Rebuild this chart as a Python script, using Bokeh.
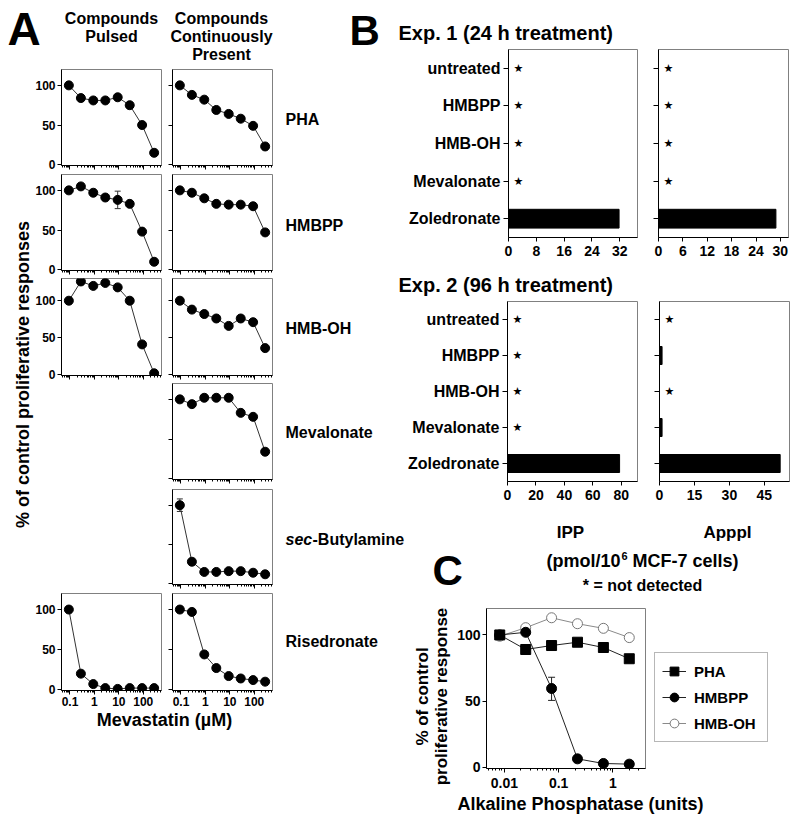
import numpy as np
from bokeh.plotting import figure
from bokeh.models import (Range1d, FactorRange, FixedTicker, CustomJSTickFormatter,
                          ColumnDataSource, Whisker, TeeHead, Legend, LegendItem)
from bokeh.layouts import column
from bokeh.core.properties import value
from bokeh.embed import file_html
from bokeh.resources import INLINE

FONT = "Liberation Sans"

# ---------------- data ----------------
# Panel A: Mevastatin dose (uM)
mevastatin_uM = [0.09, 0.28, 0.9, 2.8, 9, 28, 90, 280]
pha_pulsed = [100, 84, 81, 81, 85, 75, 50, 15]
pha_cont = [100, 88, 82, 69, 64, 58, 49, 23]
hmbpp_pulsed = [100, 105, 97, 91, 88, 83, 48, 10]
hmbpp_cont = [100, 97, 90, 83, 82, 82, 80, 47]
hmboh_pulsed = [100, 126, 120, 124, 118, 100, 41, 2]
hmboh_cont = [100, 88, 82, 76, 66, 76, 71, 36]
meval_cont = [100, 94, 102, 102, 102, 83, 78, 34]
secbut_cont = [100, 28, 15, 15, 16, 16, 14, 12]
rised_pulsed = [100, 20, 7, 2, 1, 2, 2, 2]
rised_cont = [100, 97, 44, 27, 17, 14, 12, 10]
# error bars (x, lower, upper)
hmbpp_pulsed_err = [9, 77, 99]
secbut_cont_err = [0.09, 92, 108]

row_names = ["PHA", "HMBPP", "HMB-OH", "Mevalonate", "sec-Butylamine", "Risedronate"]

# Panel B: isoprenoid levels (pmol/10^6 cells); None = not detected
treatments = ["untreated", "HMBPP", "HMB-OH", "Mevalonate", "Zoledronate"]
ipp_exp1 = [None, None, None, None, 31.8]
apppi_exp1 = [None, None, None, None, 28.9]
ipp_exp2 = [None, None, None, None, 78.8]
apppi_exp2 = [None, 1.1, None, 1.1, 51.8]

# Panel C: alkaline phosphatase units
alk_units = [0.0082, 0.0247, 0.074, 0.222, 0.667, 2.0]
c_pha = [100, 89, 92, 94.5, 90.5, 82]
c_hmbpp = [100, 102, 59.5, 6.3, 2.8, 2.3]
c_hmboh = [99, 105.5, 113, 108.5, 105, 98]
c_hmbpp_err = [0.074, 50.5, 68]
c_hmboh_err = [0.667, 102.5, 107.5]
legend_labels = ["PHA", "HMBPP", "HMB-OH"]

# ---------------- helpers ----------------
OFF = 0          # absolute positions are measured from the page origin
BASE_FIX = 0.31  # alphabetic baseline correction (fraction of font size)


def minor_log(lo_exp, hi_exp):
    return [m * 10.0 ** e for e in range(lo_exp, hi_exp + 1) for m in range(2, 10)]


def style_axis(ax, size, standoff=2):
    ax.axis_line_color = "black"
    ax.axis_line_width = 1
    ax.major_tick_line_color = "black"
    ax.minor_tick_line_color = "black"
    ax.major_tick_out = 4
    ax.major_tick_in = 0
    ax.minor_tick_out = 2
    ax.minor_tick_in = 0
    ax.major_label_text_font = FONT
    ax.major_label_text_font_style = "bold"
    ax.major_label_text_font_size = size
    ax.major_label_standoff = standoff
    ax.major_label_text_color = "black"


def make_fig(fl, ft, fw, fh, x_range, y_range, x_axis_type="linear",
             bl=40, br=6, bt=6, bb=28):
    p = figure(width=fw + bl + br, height=fh + bt + bb, x_range=x_range, y_range=y_range,
               x_axis_type=x_axis_type, output_backend="svg", toolbar_location=None,
               min_border_left=bl, min_border_right=br, min_border_top=bt, min_border_bottom=bb)
    p.styles = {"position": "absolute", "left": f"{fl - bl - OFF}px", "top": f"{ft - bt - OFF}px"}
    p.border_fill_color = None
    p.background_fill_color = "white"
    p.outline_line_color = "#808080"
    p.outline_line_width = 1
    p.grid.visible = False
    return p


figs = []

# ---------------- background with texts ----------------
bg = figure(width=800, height=821, x_range=Range1d(0, 800), y_range=Range1d(821, 0),
            output_backend="svg", toolbar_location=None, min_border=0,
            x_axis_location=None, y_axis_location=None)
bg.grid.visible = False
bg.outline_line_color = None
bg.border_fill_color = None
bg.background_fill_color = None
bg.styles = {"position": "absolute", "left": "0px", "top": "0px"}


def txt(x, y, s, size, align="left", angle=0.0, style="bold"):
    fs = float(size.replace("px", ""))
    if angle:
        x = x - BASE_FIX * fs
    else:
        y = y - BASE_FIX * fs
    bg.text(x=[x - OFF], y=[y - OFF], text=[s], text_font=value(FONT), text_font_style=style,
            text_font_size=size, text_align=align, text_baseline="alphabetic", angle=angle,
            text_color="black")


txt(7, 43, "A", "46px")
txt(111, 23, "Compounds", "16px", "center")
txt(111, 41, "Pulsed", "16px", "center")
txt(221, 23, "Compounds", "16px", "center")
txt(221, 41, "Continuously", "16px", "center")
txt(221, 59, "Present", "16px", "center")
row_baselines = [124, 230, 333, 437, 544, 646]
for name, yb in zip(row_names, row_baselines):
    if name.startswith("sec-"):
        txt(285, yb, "sec", "16px", style="bold italic")
        txt(312, yb, name[3:], "16px")
    else:
        txt(285, yb, name, "16px")
txt(164, 725, "Mevastatin (µM)", "18px", "center")
txt(28, 374, "% of control proliferative responses", "18px", "center", angle=np.pi / 2)

txt(349, 43, "B", "42px")
txt(398, 39, "Exp. 1 (24 h treatment)", "20px")
txt(398, 291, "Exp. 2 (96 h treatment)", "20px")
txt(570, 537, "IPP", "17px", "center")
txt(727, 537, "ApppI", "17px", "center")
txt(620, 566, "(pmol/10", "18px", "right")
txt(621, 559, "6", "11px")
txt(632, 566, "MCF-7 cells)", "18px")
txt(642, 590, "* = not detected", "16px", "center")

txt(432, 583, "C", "42px")
txt(427, 696, "% of control", "17px", "center", angle=np.pi / 2)
txt(446, 696, "proliferative response", "17px", "center", angle=np.pi / 2)
txt(580, 809, "Alkaline Phosphatase (units)", "18px", "center")

figs.append(bg)

# ---------------- Panel A ----------------
col_left = [61, 172]
row_tops = [69, 174, 278, 383, 489, 593]
row_h = [96, 96, 97, 96, 95, 97]
row_ymax = [120, 120, 130, 120, 120, 120]
panel_series = {
    (0, 0): pha_pulsed, (0, 1): pha_cont,
    (1, 0): hmbpp_pulsed, (1, 1): hmbpp_cont,
    (2, 0): hmboh_pulsed, (2, 1): hmboh_cont,
    (3, 1): meval_cont,
    (4, 1): secbut_cont,
    (5, 0): rised_pulsed, (5, 1): rised_cont,
}
panel_err = {(1, 0): hmbpp_pulsed_err, (4, 1): secbut_cont_err}

for (r, c), ys in panel_series.items():
    p = make_fig(col_left[c], row_tops[r], 100, row_h[r],
                 Range1d(0.045, 560), Range1d(-1, row_ymax[r]), x_axis_type="log",
                 bl=40, br=6, bt=6, bb=28)
    for ax in p.axis:
        style_axis(ax, "12px")
    p.xaxis.ticker = FixedTicker(ticks=[0.1, 1, 10, 100], minor_ticks=minor_log(-2, 2))
    p.yaxis.ticker = FixedTicker(ticks=[0, 50, 100])
    if r == 5:
        p.xaxis.formatter = CustomJSTickFormatter(code="return tick.toString()")
    else:
        p.xaxis.formatter = CustomJSTickFormatter(code="return ''")
    if c == 0:
        p.yaxis.formatter = CustomJSTickFormatter(code="return tick.toFixed(0)")
    else:
        p.yaxis.formatter = CustomJSTickFormatter(code="return ''")
    src = ColumnDataSource(dict(x=mevastatin_uM, y=ys))
    if (r, c) in panel_err:
        ex, elo, ehi = panel_err[(r, c)]
        es = ColumnDataSource(dict(x=[ex], lo=[elo], hi=[ehi]))
        w = Whisker(source=es, base="x", lower="lo", upper="hi", dimension="height",
                    line_color="#333333", line_width=1,
                    upper_head=TeeHead(size=6, line_color="#333333"),
                    lower_head=TeeHead(size=6, line_color="#333333"))
        p.add_layout(w)
    p.line("x", "y", source=src, line_color="#333333", line_width=1)
    p.scatter("x", "y", source=src, size=9, marker="circle", fill_color="black", line_color="black")
    figs.append(p)

# ---------------- Panel B ----------------
b_specs = [
    (508, 49, 129, 188, ipp_exp1, 37.1, [0, 8, 16, 24, 32], True),
    (658, 49, 130, 188, apppi_exp1, 32.0, [0, 6, 12, 18, 24, 30], False),
    (507, 301, 130, 180, ipp_exp2, 91.4, [0, 20, 40, 60, 80], True),
    (659, 301, 130, 180, apppi_exp2, 55.8, [0, 15, 30, 45], False),
]
for fl, ft, fw, fh, vals, xmax, ticks, show_cats in b_specs:
    bl = 130 if show_cats else 24
    p = make_fig(fl, ft, fw, fh, Range1d(0, xmax), FactorRange(factors=treatments[::-1]),
                 bl=bl, br=6, bt=6, bb=28)
    for ax in p.axis:
        style_axis(ax, "14px", standoff=4)
    p.yaxis.major_label_text_font_size = "16px"
    p.yaxis.major_tick_out = 5
    p.yaxis.major_label_standoff = 3
    p.xaxis.ticker = FixedTicker(ticks=ticks)
    if not show_cats:
        p.yaxis.formatter = CustomJSTickFormatter(code="return ''")
    det_y = [t for t, v in zip(treatments, vals) if v is not None]
    det_v = [v for v in vals if v is not None]
    nd_y = [t for t, v in zip(treatments, vals) if v is None]
    p.hbar(y=det_y, right=det_v, left=0, height=0.5, fill_color="black", line_color="black")
    if nd_y:
        p.text(x=[0] * len(nd_y), y=nd_y, text=["★"] * len(nd_y), x_offset=10,
               text_align="center", text_baseline="middle", text_font_size="11px",
               text_font=value("DejaVu Sans"), text_color="black")
    figs.append(p)

# ---------------- Panel C ----------------
pc = make_fig(486, 608, 159, 160, Range1d(0.00468, 3.98), Range1d(-1, 120), x_axis_type="log",
              bl=50, br=6, bt=6, bb=28)
for ax in pc.axis:
    style_axis(ax, "14px")
pc.xaxis.major_label_standoff = 5
pc.xaxis.ticker = FixedTicker(ticks=[0.01, 0.1, 1], minor_ticks=minor_log(-3, 0))
pc.xaxis.formatter = CustomJSTickFormatter(code="return tick.toString()")
pc.yaxis.ticker = FixedTicker(ticks=[0, 50, 100])

s_pha = ColumnDataSource(dict(x=alk_units, y=c_pha))
s_hmbpp = ColumnDataSource(dict(x=alk_units, y=c_hmbpp))
s_hmboh = ColumnDataSource(dict(x=alk_units, y=c_hmboh))

STY = {
    "PHA": dict(src=s_pha, line="#222222", marker="square", fill="black", edge="black"),
    "HMBPP": dict(src=s_hmbpp, line="#222222", marker="circle", fill="black", edge="black"),
    "HMB-OH": dict(src=s_hmboh, line="#8a8a8a", marker="circle", fill="white", edge="#777777"),
}
for name in ["HMB-OH", "PHA", "HMBPP"]:
    s = STY[name]
    pc.line("x", "y", source=s["src"], line_color=s["line"], line_width=1)
    pc.scatter("x", "y", source=s["src"], marker=s["marker"], size=10,
               fill_color=s["fill"], line_color=s["edge"], line_width=1)

for (ex, elo, ehi), col in [(c_hmbpp_err, "#222222"), (c_hmboh_err, "#777777")]:
    es = ColumnDataSource(dict(x=[ex], lo=[elo], hi=[ehi]))
    pc.add_layout(Whisker(source=es, base="x", lower="lo", upper="hi", dimension="height",
                          line_color=col, line_width=1,
                          upper_head=TeeHead(size=7, line_color=col),
                          lower_head=TeeHead(size=7, line_color=col)))
figs.append(pc)

# legend box (separate small canvas beside panel C)
lg = figure(width=140, height=100, x_range=Range1d(0, 1), y_range=Range1d(0, 1),
            output_backend="svg", toolbar_location=None, min_border=0,
            x_axis_location=None, y_axis_location=None)
lg.grid.visible = False
lg.outline_line_color = None
lg.border_fill_color = None
lg.background_fill_color = None
lg.styles = {"position": "absolute", "left": f"{654 - OFF}px", "top": f"{652 - OFF}px"}
items = []
for name in legend_labels:
    s = STY[name]
    rl = lg.line("x", "y", source=s["src"], line_color=s["line"], line_width=1, visible=False)
    rm = lg.scatter("x", "y", source=s["src"], marker=s["marker"], size=7,
                    fill_color=s["fill"], line_color=s["edge"], line_width=1, visible=False)
    items.append(LegendItem(label=name, renderers=[rl, rm]))
legend = Legend(items=items, location="top_left")
legend.label_text_font = FONT
legend.label_text_font_style = "bold"
legend.label_text_font_size = "15px"
legend.label_text_color = "black"
legend.border_line_color = "#707070"
legend.border_line_width = 1
legend.padding = 7
legend.spacing = 4
legend.margin = 0
legend.glyph_width = 24
legend.glyph_height = 22
legend.label_height = 22
legend.label_standoff = 8
legend.label_width = 66
legend.background_fill_color = "white"
legend.inactive_fill_alpha = 0
lg.add_layout(legend, "center")
figs.append(lg)

try:
    from bokeh.models import Pane
    root = Pane(elements=figs, styles={"position": "relative", "width": "784px", "height": "805px"})
except ImportError:
    root = column(*figs, width=784, height=805, sizing_mode="fixed",
                  styles={"position": "relative"})

open("out.html", "w").write(file_html(root, INLINE))
